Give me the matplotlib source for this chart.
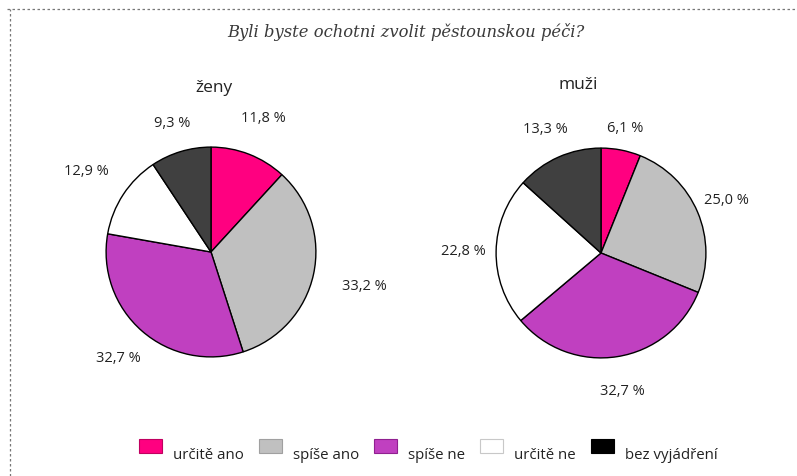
import math
import matplotlib
matplotlib.use("Agg")
import matplotlib.pyplot as plt
from matplotlib.patches import Rectangle
from matplotlib.lines import Line2D

title = "Byli byste ochotni zvolit pěstounskou péči?"
categories = ["určitě ano", "spíše ano", "spíše ne", "určitě ne", "bez vyjádření"]
groups = ["ženy", "muži"]
zeny = [11.8, 33.2, 32.7, 12.9, 9.3]
muzi = [6.1, 25.0, 32.7, 22.8, 13.3]

slice_colors = ["#FF0080", "#C0C0C0", "#C040C0", "#FFFFFF", "#404040"]
legend_colors = ["#FF0080", "#C0C0C0", "#C040C0", "#FFFFFF", "#000000"]
legend_edges = ["#C00060", "#A0A0A0", "#902090", "#C8C8C8", "#000000"]

# label distance factors (styling, in pie radii)
label_dist = {"ženy": [1.38, 1.5, 1.34, 1.42, 1.29],
              "muži": [1.22, 1.3, 1.33, 1.31, 1.3]}

W, H = 797, 477
fig = plt.figure(figsize=(W / 100, H / 100), dpi=100)
fig.patch.set_facecolor("white")

TXT = "#222222"
FONT = ["Open Sans", "DejaVu Sans"]

def px_axes(cx, cy, r):
    return fig.add_axes([(cx - r) / W, (H - cy - r) / H, 2 * r / W, 2 * r / H])

def fmt(v):
    return f"{v:.1f}".replace(".", ",") + " %"

layout = {"ženy": (211, 253, 214, 88), "muži": (601, 254, 578, 85)}
for name, vals in zip(groups, [zeny, muzi]):
    cx, cy, tx, ty = layout[name]
    ax = px_axes(cx, cy, 107)
    wedges, _ = ax.pie(vals, colors=slice_colors, startangle=90, counterclock=False,
                       radius=1.0, wedgeprops=dict(edgecolor="black", linewidth=1.0))
    for w, v, d in zip(wedges, vals, label_dist[name]):
        ang = math.radians((w.theta1 + w.theta2) / 2)
        ax.text(d * math.cos(ang), d * math.sin(ang), fmt(v), ha="center", va="center",
                fontsize=10.5, color=TXT, family=FONT, clip_on=False)
    ax.set_xlim(-1.02, 1.02)
    ax.set_ylim(-1.02, 1.02)
    ax.set_aspect("equal")
    ax.axis("off")
    fig.text(tx / W, 1 - ty / H, name, ha="center", va="center",
             fontsize=12.5, color=TXT, family=FONT)

fig.text(406 / W, 1 - 32 / H, title, ha="center", va="center", fontsize=11.8,
         style="italic", family=["DejaVu Serif"], color="#3a3a3a")

# dashed frame (top and left)
fig.add_artist(Line2D([7 / W, 1.0], [1 - 9.5 / H, 1 - 9.5 / H], transform=fig.transFigure,
                      color="#777777", linewidth=0.9, linestyle=(0, (2, 2))))
fig.add_artist(Line2D([9.5 / W, 9.5 / W], [0, 1 - 9.5 / H], transform=fig.transFigure,
                      color="#777777", linewidth=0.9, linestyle=(0, (2, 2))))

# legend drawn manually: square, then text slightly lower, as in the original
renderer = fig.canvas.get_renderer()
x = 139
for lab, fc, ec in zip(categories, legend_colors, legend_edges):
    fig.add_artist(Rectangle((x / W, 1 - 454 / H), 23 / W, 14 / H, transform=fig.transFigure,
                             facecolor=fc, edgecolor=ec, linewidth=0.8))
    t = fig.text((x + 34) / W, 1 - 456 / H, lab, ha="left", va="center", fontsize=10.8,
                 color=TXT, family=FONT)
    bb = t.get_window_extent(renderer=renderer)
    x = x + 34 + bb.width + 15

fig.savefig("out.png", dpi=100, facecolor="white")
